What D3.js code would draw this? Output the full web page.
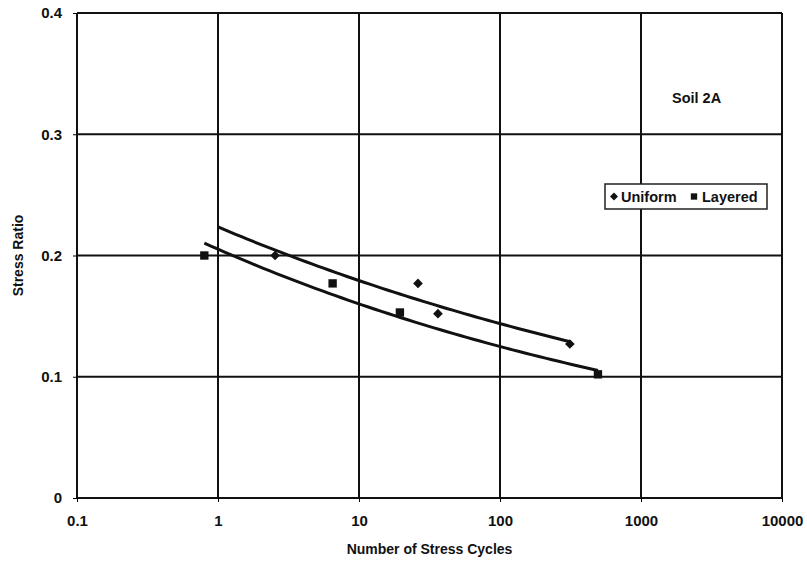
<!DOCTYPE html>
<html>
<head>
<meta charset="utf-8">
<script src="https://cdn.jsdelivr.net/npm/d3@7"></script>
<style>
  body { margin: 0; background: #fff; }
  text { font-family: "Liberation Sans", Arial, sans-serif; font-weight: bold; fill: #111; }
</style>
</head>
<body>
<div id="chart"></div>
<script>
const width = 807
const height = 565
const margin = {top: 13, right: 25, bottom: 67, left: 77}

// data
const uniformCycles = [2.54, 26.2, 36.3, 313]
const uniformRatio = [0.200, 0.177, 0.152, 0.127]
const layeredCycles = [0.8, 6.5, 19.5, 495]
const layeredRatio = [0.200, 0.177, 0.153, 0.102]
const uniformTrendRange = [1, 313]
const layeredTrendRange = [0.8, 495]
const xTicks = [0.1, 1, 10, 100, 1000, 10000]
const yTicks = [0, 0.1, 0.2, 0.3, 0.4]

const svg = d3.select("#chart")
    .append("svg")
    .attr("width", width)
    .attr("height", height)

const xScale = d3.scaleLog()
    .domain([0.1, 10000])
    .range([margin.left, width - margin.right])

const yScale = d3.scaleLinear()
    .domain([0, 0.4])
    .range([height - margin.bottom, margin.top])

// grid
svg.append("g")
    .selectAll("line.v")
    .data(xTicks)
    .join("line")
    .attr("x1", d => xScale(d)).attr("x2", d => xScale(d))
    .attr("y1", yScale(0)).attr("y2", yScale(0.4))
    .attr("stroke", "#111").attr("stroke-width", 2)

svg.append("g")
    .selectAll("line.h")
    .data(yTicks)
    .join("line")
    .attr("x1", xScale(0.1)).attr("x2", xScale(10000))
    .attr("y1", d => yScale(d)).attr("y2", d => yScale(d))
    .attr("stroke", "#111").attr("stroke-width", 2)

// axes
const xAxis = svg.append("g")
    .attr("transform", `translate(0,${yScale(0)})`)
    .call(d3.axisBottom(xScale).tickValues(xTicks).tickFormat(d => String(d)).tickSize(4).tickPadding(13))
xAxis.select(".domain").remove()
xAxis.selectAll("text").style("font-size", "15px")

const yAxis = svg.append("g")
    .attr("transform", `translate(${xScale(0.1)},0)`)
    .call(d3.axisLeft(yScale).tickValues(yTicks).tickFormat(d => d === 0 ? "0" : d3.format(".1f")(d)).tickSize(4).tickPadding(11))
yAxis.select(".domain").remove()
yAxis.selectAll("text").style("font-size", "15px")

// power trend lines (fitted from each series, like a spreadsheet trendline)
function powerFit(xs, ys) {
  const lx = xs.map(Math.log), ly = ys.map(Math.log)
  const mx = d3.mean(lx), my = d3.mean(ly)
  const b = d3.sum(lx, (v, i) => (v - mx) * (ly[i] - my)) / d3.sum(lx, v => (v - mx) ** 2)
  const a = Math.exp(my - b * mx)
  return n => a * Math.pow(n, b)
}

function trend(xs, ys, range) {
  const f = powerFit(xs, ys)
  const lo = Math.log10(range[0]), hi = Math.log10(range[1])
  return d3.range(0, 61).map(i => {
    const n = Math.pow(10, lo + (hi - lo) * i / 60)
    return [n, f(n)]
  })
}

const line = d3.line().x(d => xScale(d[0])).y(d => yScale(d[1]))

svg.append("path")
    .attr("d", line(trend(uniformCycles, uniformRatio, uniformTrendRange)))
    .attr("fill", "none").attr("stroke", "#111").attr("stroke-width", 3)

svg.append("path")
    .attr("d", line(trend(layeredCycles, layeredRatio, layeredTrendRange)))
    .attr("fill", "none").attr("stroke", "#111").attr("stroke-width", 3)

// points
const diamond = d3.symbol().type(d3.symbolDiamond2).size(60)
const square = d3.symbol().type(d3.symbolSquare).size(70)

svg.append("g")
    .selectAll("path")
    .data(d3.zip(uniformCycles, uniformRatio))
    .join("path")
    .attr("d", diamond)
    .attr("transform", d => `translate(${xScale(d[0])},${yScale(d[1])})`)
    .attr("fill", "#111")

svg.append("g")
    .selectAll("path")
    .data(d3.zip(layeredCycles, layeredRatio))
    .join("path")
    .attr("d", square)
    .attr("transform", d => `translate(${xScale(d[0])},${yScale(d[1])})`)
    .attr("fill", "#111")

// legend
const legend = svg.append("g").attr("transform", "translate(605,184)")
legend.append("rect")
    .attr("width", 162).attr("height", 25)
    .attr("fill", "#fff").attr("stroke", "#222").attr("stroke-width", 1.5)
legend.append("path").attr("d", d3.symbol().type(d3.symbolDiamond2).size(40))
    .attr("transform", "translate(9,12.5)").attr("fill", "#111")
legend.append("text").attr("x", 16).attr("y", 18).style("font-size", "14.5px").text("Uniform")
legend.append("path").attr("d", d3.symbol().type(d3.symbolSquare).size(40))
    .attr("transform", "translate(89,12.5)").attr("fill", "#111")
legend.append("text").attr("x", 97).attr("y", 18).style("font-size", "14.5px").text("Layered")

// annotation
svg.append("text")
    .attr("x", 672).attr("y", 103)
    .style("font-size", "14.5px")
    .text("Soil 2A")

// axis titles
svg.append("text")
    .attr("x", (xScale(0.1) + xScale(10000)) / 2)
    .attr("y", 554)
    .attr("text-anchor", "middle")
    .style("font-size", "14px")
    .text("Number of Stress Cycles")

svg.append("text")
    .attr("transform", `translate(23,${(yScale(0) + yScale(0.4)) / 2}) rotate(-90)`)
    .attr("text-anchor", "middle")
    .style("font-size", "14px")
    .text("Stress Ratio")
</script>
</body>
</html>
